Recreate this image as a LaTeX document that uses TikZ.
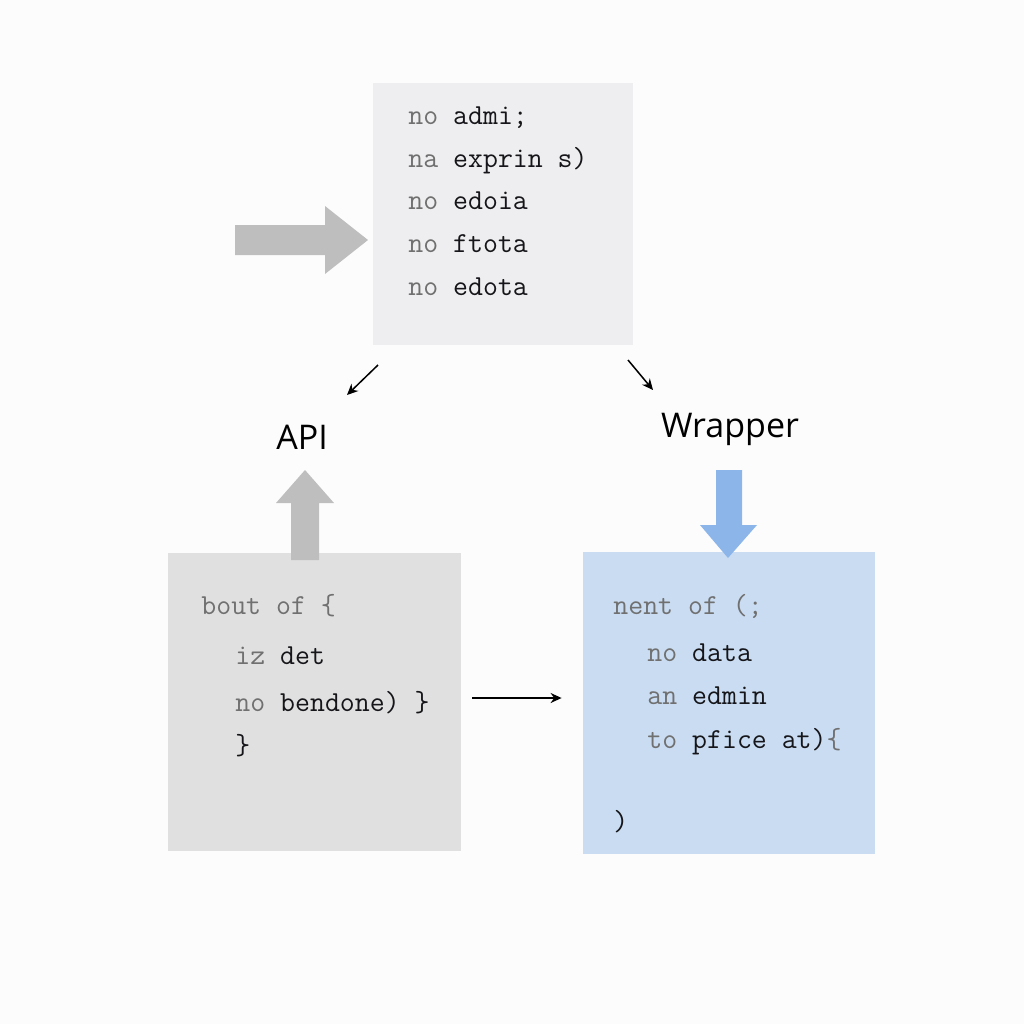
\documentclass[tikz,border=0pt]{standalone}
\usepackage{fontspec}
\setmainfont{Open Sans}
\usetikzlibrary{arrows.meta, positioning}
\definecolor{PageWhite}{RGB}{252,252,252}
\definecolor{PanelGray}{RGB}{238,238,240}
\definecolor{BoxGray}{RGB}{224,224,224}
\definecolor{BoxBlue}{RGB}{201,220,241}
\definecolor{BarGray}{RGB}{190,190,190}
\definecolor{BarBlue}{RGB}{140,182,234}
\definecolor{CodeGray}{RGB}{112,112,112}
\definecolor{CodeInk}{RGB}{22,22,26}

\tikzset{
  panel/.style={inner sep=0pt, draw=none},
  codeline/.style={anchor=base west, inner sep=0pt, text=CodeInk,
                   font=\ttfamily\fontsize{14.5}{16}\selectfont},
  tag/.style={inner sep=1pt, text=black, font=\fontsize{17}{20}\selectfont},
  thinarrow/.style={-{Stealth[length=5.5pt, width=5pt]}, line width=0.75pt, black}
}
\newcommand{\kw}[1]{\textcolor{CodeGray}{#1}}

\begin{document}
\begin{tikzpicture}[x=0.5pt, y=-0.5pt]
            \useasboundingbox (0,0) rectangle (1024,1024);
            \fill[PageWhite] (0,0) rectangle (1024,1024);

            % Query panel on top
            \node[panel, fill=PanelGray, minimum width=130pt, minimum height=131pt] (query) at (503,214) {};
            \node[codeline] (q1) at (408,124) {\kw{no} admi;};
            \node[codeline] (q2) at (408,167) {\kw{na} exprin s)};
            \node[codeline] (q3) at (408,209) {\kw{no} edoia};
            \node[codeline] (q4) at (408,252) {\kw{no} ftota};
            \node[codeline] (q5) at (408,295) {\kw{no} edota};

            % Gray block arrow into the panel
            \fill[BarGray] (235,225) -- (325,225) -- (325,206) -- (368,240)
                -- (325,274) -- (325,255) -- (235,255) -- cycle;

            % Labels
            \node[tag] (api) at (302,437) {API};
            \node[tag] (wrapper) at (730,429) {Wrapper};

            % Thin arrows from the panel to the labels
            \coordinate (qleft) at (378,365);
            \coordinate (apitop) at (347,395);
            \coordinate (qright) at (628,360);
            \coordinate (wraptop) at (653,390);
            \draw[thinarrow] (qleft) -- (apitop);
            \draw[thinarrow] (qright) -- (wraptop);

            % Left code box
            \node[panel, fill=BoxGray, minimum width=146.5pt, minimum height=149pt] (apibox) at (314.5,702) {};
            \node[codeline] (a1) at (201,614) {\kw{bout of \{}};
            \node[codeline] (a2) at (235,664) {\kw{iz} det};
            \node[codeline] (a3) at (235,711) {\kw{no} bendone) \}};
            \node[codeline] (a4) at (235,754) {\}};

            % Gray block arrow up to API
            \fill[BarGray] (291,560) -- (291,503) -- (276,503) -- (305,470)
                -- (334,503) -- (319,503) -- (319,560) -- cycle;

            % Right code box
            \node[panel, fill=BoxBlue, minimum width=146pt, minimum height=151pt] (wrapbox) at (729,703) {};
            \node[codeline] (w1) at (613,614) {\kw{nent of (;}};
            \node[codeline] (w2) at (647,661) {\kw{no} data};
            \node[codeline] (w3) at (647,704) {\kw{an} edmin};
            \node[codeline] (w4) at (647,748) {\kw{to} pfice at)\kw{\{}};
            \node[codeline] (w5) at (613,830) {)};

            % Blue block arrow down from Wrapper
            \fill[BarBlue] (716,470) -- (742,470) -- (742,525) -- (757,525)
                -- (728,558) -- (700,525) -- (716,525) -- cycle;

            % Arrow between the boxes
            \draw[thinarrow, shorten <=5.5pt, shorten >=10.5pt] (apibox.east) ++(0,-4) -- (wrapbox.west |- 0,698);
        \end{tikzpicture}
\end{document}
